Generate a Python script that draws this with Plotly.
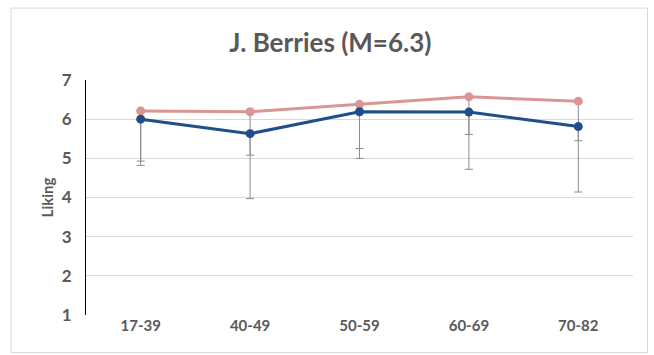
import plotly.graph_objects as go

categories = ["17-39", "40-49", "50-59", "60-69", "70-82"]
pink_values = [6.21, 6.19, 6.38, 6.57, 6.46]
pink_err_minus = [1.28, 1.11, 1.13, 0.96, 1.01]
blue_values = [6.00, 5.63, 6.19, 6.18, 5.81]
blue_err_minus = [1.18, 1.66, 1.19, 1.46, 1.67]
y_ticks = [1, 2, 3, 4, 5, 6, 7]

font_family = "Lato, 'Open Sans', sans-serif"
grey_text = "#595959"

fig = go.Figure()
fig.add_trace(go.Scatter(
    x=categories, y=pink_values, mode="lines+markers",
    line=dict(color="#D99694", width=3),
    marker=dict(color="#D99694", size=9),
    error_y=dict(type="data", symmetric=False, array=[0]*5, arrayminus=pink_err_minus,
                 color="#8c8c8c", thickness=1, width=4),
    showlegend=False,
))
fig.add_trace(go.Scatter(
    x=categories, y=blue_values, mode="lines+markers",
    line=dict(color="#1F4E89", width=3),
    marker=dict(color="#1F4E89", size=9),
    error_y=dict(type="data", symmetric=False, array=[0]*5, arrayminus=blue_err_minus,
                 color="#8c8c8c", thickness=1, width=4),
    showlegend=False,
))

fig.update_layout(
    width=654, height=355,
    margin=dict(l=86, r=21, t=80, b=40),
    paper_bgcolor="white", plot_bgcolor="white",
    title=dict(text="J. Berries (M=6.3)", x=0.505, xanchor="center", y=0.88, yanchor="middle",
               font=dict(family=font_family, size=26, color=grey_text, weight="bold")),
    xaxis=dict(type="category", range=[-0.5, 4.5], showgrid=False, showline=False,
               ticks="", tickfont=dict(family=font_family, size=15, color=grey_text, weight="bold"),
               zeroline=False),
    yaxis=dict(range=[1, 7], tickvals=y_ticks, showgrid=True, gridcolor="#d9d9d9", gridwidth=1,
               showline=True, linecolor="#000000", linewidth=1,
               ticks="outside", ticklen=10, tickcolor="rgba(0,0,0,0)",
               tickfont=dict(family=font_family, size=17, color=grey_text, weight="bold"),
               zeroline=False,
               title=dict(text="Liking", font=dict(family=font_family, size=15, color=grey_text, weight="bold"), standoff=4)),
    shapes=[dict(type="rect", xref="paper", yref="paper", x0=-0.137, x1=1.0265, y0=-0.16, y1=1.306,
                 line=dict(color="#d9d9d9", width=1), fillcolor="rgba(0,0,0,0)", layer="below")],
)

fig.write_html("out.html")
